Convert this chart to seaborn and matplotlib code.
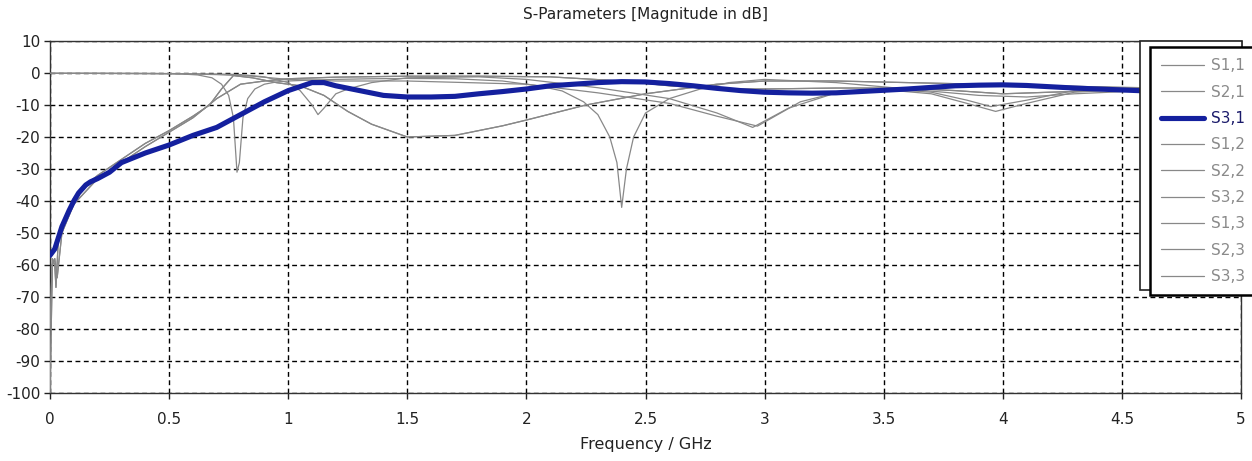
import matplotlib
matplotlib.use("Agg")
import matplotlib.pyplot as plt
import seaborn as sns
import pandas as pd
from matplotlib.patches import Rectangle

sns.set_style("white")
plt.rcParams['font.family'] = ['DejaVu Sans']

# ---------------- data ----------------
x_ticks = [0, 0.5, 1, 1.5, 2, 2.5, 3, 3.5, 4, 4.5, 5]
x_tick_labels = ["0", "0.5", "1", "1.5", "2", "2.5", "3", "3.5", "4", "4.5", "5"]
y_ticks = [10, 0, -10, -20, -30, -40, -50, -60, -70, -80, -90, -100]
y_tick_labels = ["10", "0", "-10", "-20", "-30", "-40", "-50", "-60", "-70", "-80", "-90", "-100"]

param_labels = ["S1,1", "S2,1", "S3,1", "S1,2", "S2,2", "S3,2", "S1,3", "S2,3", "S3,3"]

f11 = [0, 0.2, 0.4, 0.55, 0.62, 0.68, 0.72, 0.75, 0.77, 0.785, 0.795, 0.81, 0.83, 0.86, 0.9,
       0.95, 1.0, 1.1, 1.2, 1.35, 1.5, 1.7, 1.9, 2.05, 2.15, 2.24, 2.3, 2.35, 2.38, 2.4, 2.42,
       2.45, 2.5, 2.6, 2.73, 2.85, 3.0, 3.3, 3.6, 3.9, 4.1, 4.3, 4.6, 5.0]
s11 = [-0.1, -0.1, -0.2, -0.3, -0.6, -1.5, -3.5, -7, -14, -31, -28, -14, -8, -5, -3.5,
       -2.8, -2.5, -2.2, -2.0, -1.8, -1.7, -1.8, -2.5, -4, -5.6, -9, -13, -20, -28, -42, -30,
       -20, -12.5, -8, -5, -3, -2, -3, -5, -7, -7.5, -6.5, -5.5, -5]

f21 = [0, 0.01, 0.02, 0.025, 0.035, 0.05, 0.07, 0.1, 0.15, 0.2, 0.3, 0.4, 0.5, 0.6, 0.67,
       0.72, 0.77, 0.85, 0.95, 1.05, 1.15, 1.25, 1.35, 1.5, 1.7, 1.9, 2.0, 2.25, 2.5, 2.8,
       3.0, 3.3, 3.6, 3.9, 4.2, 4.5, 5.0]
s21 = [-80, -58, -60, -67, -52, -47, -44, -39, -35, -32, -27, -22, -18, -13.5, -10,
       -5, -0.8, -1.5, -3, -4, -7, -12, -16, -20, -19.5, -16.5, -14.7, -10, -6.5, -3.5,
       -2.5, -2.5, -3, -3.5, -4, -4.5, -5]

f31 = [0, 0.02, 0.05, 0.08, 0.1, 0.12, 0.15, 0.17, 0.2, 0.25, 0.3, 0.4, 0.5, 0.6, 0.7, 0.8,
       0.9, 1.0, 1.1, 1.15, 1.2, 1.3, 1.4, 1.5, 1.6, 1.7, 1.8, 1.9, 2.0, 2.1, 2.2, 2.3, 2.4,
       2.5, 2.6, 2.7, 2.8, 2.9, 3.0, 3.1, 3.2, 3.3, 3.4, 3.5, 3.6, 3.7, 3.8, 3.9, 4.0, 4.1,
       4.2, 4.3, 4.4, 4.5, 4.6, 4.8, 5.0]
s31 = [-57, -55, -48, -43, -40, -37.5, -35, -34, -33, -31, -28, -25, -22.5, -19.5, -17, -13,
       -9, -5.5, -3, -3, -4, -5.5, -7, -7.5, -7.5, -7.3, -6.5, -5.8, -5, -4, -3.5, -3, -2.7,
       -2.8, -3.3, -4, -4.8, -5.5, -6, -6.2, -6.3, -6.2, -5.8, -5.4, -5, -4.5, -4, -3.8, -3.7, -3.9,
       -4.3, -4.7, -5, -5.3, -5.6, -5.8, -5.8]

f22 = [0, 0.4, 0.7, 0.8, 0.9, 1.0, 1.05, 1.1, 1.125, 1.15, 1.2, 1.25, 1.35, 1.5, 1.8, 2.0,
       2.3, 2.6, 2.8, 2.95, 3.1, 3.3, 3.5, 3.7, 3.85, 3.95, 4.1, 4.3, 4.6, 5.0]
s22 = [-0.1, -0.1, -0.3, -0.5, -1.2, -3, -5.5, -10, -13, -11, -6.5, -5, -3, -1.5, -1.2, -2,
       -4.6, -8, -12.5, -17, -11, -6.2, -5, -6, -8.5, -10.5, -8.5, -5.5, -4.5, -4.5]

f32 = [0, 0.01, 0.02, 0.03, 0.05, 0.1, 0.2, 0.3, 0.4, 0.5, 0.6, 0.7, 0.8, 0.9, 1.0, 1.2,
       1.5, 1.8, 2.1, 2.4, 2.6, 2.8, 3.0, 3.3, 3.57, 3.8, 4.0, 4.2, 4.5, 5.0]
s32 = [-100, -60, -58, -64, -50, -41, -33, -28, -23, -18.5, -14, -8, -3.5, -2.5, -1.8, -1.3,
       -1.0, -1.0, -1.2, -2.5, -4, -5, -5, -4.7, -4.7, -5.5, -6.5, -6, -5.3, -5]

f33 = [0, 0.5, 0.7, 0.85, 1.0, 1.2, 1.5, 2.0, 2.3, 2.6, 2.8, 2.97, 3.15, 3.3, 3.5, 3.7,
       3.85, 3.97, 4.1, 4.3, 4.6, 5.0]
s33 = [-0.1, -0.2, -0.5, -1, -2, -2.5, -2.5, -3.5, -6.2, -9.5, -13.5, -16.6, -9, -6.2, -5.2, -6.5,
       -9.5, -12, -9.5, -6, -4.8, -5]

series = {
    "S1,1": (f11, s11), "S2,1": (f21, s21), "S3,1": (f31, s31),
    "S1,2": (f21, s21), "S2,2": (f22, s22), "S3,2": (f32, s32),
    "S1,3": (f31, s31), "S2,3": (f32, s32), "S3,3": (f33, s33),
}

GRAY = "#888888"
BLUE = "#14209e"

# ---------------- figure ----------------
W, H = 1252, 461
fig = plt.figure(figsize=(W / 100, H / 100), dpi=100)
fig.patch.set_facecolor("white")
ax = fig.add_axes([50 / W, 1 - 393 / H, (1241 - 50) / W, (393 - 41) / H])

for lab in param_labels:
    fx, fy = series[lab]
    df = pd.DataFrame({"freq": fx, "db": fy})
    if lab == "S3,1":
        sns.lineplot(data=df, x="freq", y="db", ax=ax, color=BLUE, linewidth=3.7,
                     label=lab, zorder=4, solid_capstyle="round", solid_joinstyle="round")
    else:
        sns.lineplot(data=df, x="freq", y="db", ax=ax, color=GRAY, linewidth=0.9,
                     label=lab, zorder=3)

ax.set_xlim(0, 5)
ax.set_ylim(-100, 10)
ax.set_xticks(x_ticks)
ax.set_xticklabels(x_tick_labels)
ax.set_yticks(y_ticks)
ax.set_yticklabels(y_tick_labels)
ax.tick_params(axis="x", which="major", labelsize=11, colors="#222222",
               length=4, width=1, direction="out", bottom=True, pad=10)
ax.tick_params(axis="y", which="major", labelsize=11, colors="#222222",
               length=4, width=1, direction="out", left=True, pad=3)
ax.grid(True, color="black", linestyle=(0, (3.5, 2.5)), linewidth=1.0, zorder=1)
ax.set_axisbelow(True)
for sp in ax.spines.values():
    sp.set_color("#333333")
    sp.set_linewidth(1.0)

ax.set_title("S-Parameters [Magnitude in dB]", fontsize=11, color="#222222", pad=16)
ax.set_xlabel("Frequency / GHz", fontsize=11.5, color="#222222", labelpad=7)
ax.set_ylabel("")

# back (shadow) box of the legend
back = Rectangle((1140 / W, 1 - 290 / H), (1242 - 1140) / W, (290 - 41) / H,
                 transform=fig.transFigure, facecolor="white", edgecolor="#222222",
                 linewidth=1.2, clip_on=False, zorder=4.8)
ax.add_patch(back)

handles, labels = ax.get_legend_handles_labels()
leg = ax.legend(handles, labels, loc="upper left",
                bbox_to_anchor=(1150 / W, 1 - 47 / H), bbox_transform=fig.transFigure,
                frameon=True, fancybox=False, shadow=False, fontsize=11,
                labelspacing=0.74, handlelength=2.8, handletextpad=0.45,
                borderpad=0.75, borderaxespad=0.0)
leg.set_zorder(6)
frame = leg.get_frame()
frame.set_edgecolor("black")
frame.set_linewidth(1.8)
frame.set_facecolor("white")
frame.set_alpha(1.0)
for txt in leg.get_texts():
    txt.set_color("#1a1a6a" if txt.get_text() == "S3,1" else "#8a8a8a")

fig.savefig("out.png", dpi=100, facecolor="white")
